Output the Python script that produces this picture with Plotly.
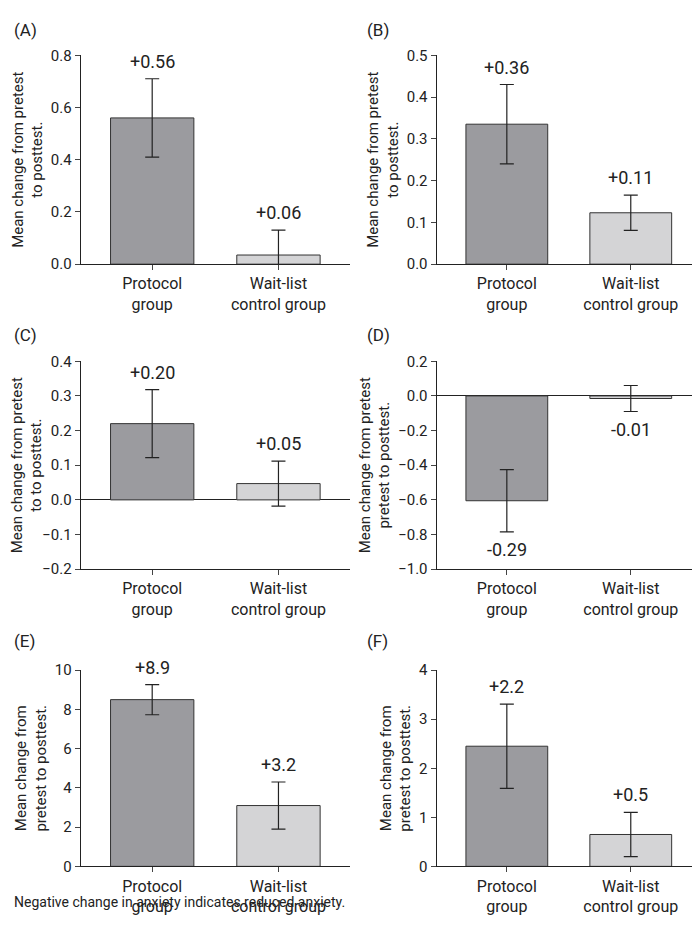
import plotly.graph_objects as go

categories = ["Protocol<br>group", "Wait-list<br>control group"]
panels = ["(A)", "(B)", "(C)", "(D)", "(E)", "(F)"]
means = [[0.56, 0.035], [0.335, 0.123], [0.22, 0.047], [-0.605, -0.015], [8.5, 3.1], [2.45, 0.65]]
errs = [[0.15, 0.095], [0.095, 0.042], [0.098, 0.065], [0.18, 0.075], [0.77, 1.2], [0.86, 0.45]]
labels = [["+0.56", "+0.06"], ["+0.36", "+0.11"], ["+0.20", "+0.05"], ["-0.29", "-0.01"], ["+8.9", "+3.2"], ["+2.2", "+0.5"]]
ranges = [[0, 0.8], [0, 0.5], [-0.2, 0.4], [-1.0, 0.2], [0, 10], [0, 4]]
dticks = [0.2, 0.1, 0.1, 0.2, 2, 1]
tickfmt = [".1f", ".1f", ".1f", ".1f", "d", "d"]
ytitles = ["Mean change from pretest<br>to posttest.", "Mean change from pretest<br>to posttest.",
           "Mean change from pretest<br>to to posttest.", "Mean change from pretest<br>pretest to posttest.",
           "Mean change from<br>pretest to posttest.", "Mean change from<br>pretest to posttest."]
colors = ["#9b9b9f", "#d4d4d6"]
footnote = "Negative change in anxiety indicates reduced anxiety."

W, H = 700, 937
rows_px = [(39, 252), (351, 563), (666, 866)]
label_px = [13, 324, 636]
cols_px = [(69, 340), (427, 693)]
label_x = [0, 355]

fig = go.Figure()
layout = dict(width=W, height=H, margin=dict(l=0, r=0, t=0, b=0),
              paper_bgcolor="white", plot_bgcolor="white", showlegend=False,
              font=dict(family="Roboto", color="#222", size=15), bargap=0.34)
ann = []
for i in range(6):
    r, c = divmod(i, 2)
    n = "" if i == 0 else str(i + 1)
    top, bot = rows_px[r]
    x0, x1 = cols_px[c]
    fig.add_trace(go.Bar(x=[0, 1], y=means[i], marker=dict(color=colors, line=dict(color="#333", width=1)),
                         error_y=dict(type="data", array=errs[i], color="#222", thickness=1.2, width=7),
                         xaxis="x" + n, yaxis="y" + n))
    neg = ranges[i][0] < 0
    layout["xaxis" + n] = dict(domain=[x0 / W, x1 / W], anchor="y" + n, range=[-0.567, 1.567],
                               tickvals=[0, 1], ticktext=categories, tickfont=dict(size=16),
                               showline=True, linecolor="#222", ticks="outside", ticklen=5,
                               showgrid=False, zeroline=False)
    layout["yaxis" + n] = dict(domain=[1 - bot / H, 1 - top / H], anchor="x" + n, range=ranges[i],
                               dtick=dticks[i], tickformat=tickfmt[i], showline=True, linecolor="#222",
                               ticks="outside", ticklen=5, showgrid=False, zeroline=neg,
                               zerolinecolor="#222", zerolinewidth=1, tickfont=dict(size=15),
                               title=dict(text=ytitles[i], font=dict(size=15), standoff=4))
    for k in range(2):
        m, e = means[i][k], errs[i][k]
        if m >= 0:
            yv, ya, sh = m + e, "bottom", 5
        else:
            yv, ya, sh = m - e, "top", -5
        ann.append(dict(x=k, y=yv, xref="x" + n, yref="y" + n, text=labels[i][k], showarrow=False,
                        yanchor=ya, yshift=sh, font=dict(size=18)))
    ann.append(dict(x=label_x[c] / W, y=1 - label_px[r] / H, xref="paper", yref="paper",
                    text=panels[i], showarrow=False, xanchor="left", yanchor="middle", font=dict(size=17)))
ann.append(dict(x=0.0, y=1 - 902 / H, xref="paper", yref="paper", text=footnote, showarrow=False,
                xanchor="left", yanchor="middle", font=dict(size=14)))
layout["annotations"] = ann
fig.update_layout(**layout)
fig.write_html("out.html")
